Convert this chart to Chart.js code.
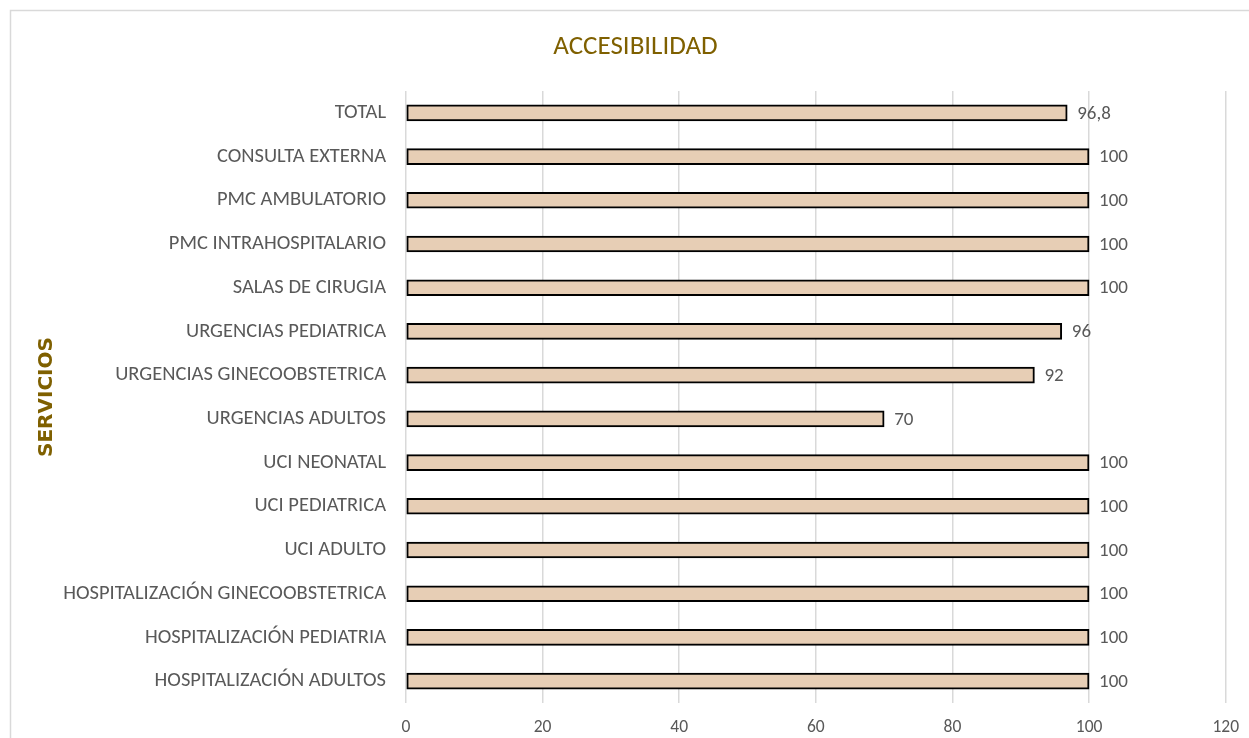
<!DOCTYPE html>
<html>
<head>
<meta charset="utf-8">
<script src="https://cdn.jsdelivr.net/npm/chart.js@4/dist/chart.umd.min.js"></script>
<style>
html,body{margin:0;padding:0;background:#fff;overflow:hidden;width:1249px;height:738px;}
canvas{display:block;}
</style>
</head>
<body>
<canvas id="c" width="1253" height="738"></canvas>
<script>
const categories = [
  "TOTAL",
  "CONSULTA EXTERNA",
  "PMC AMBULATORIO",
  "PMC INTRAHOSPITALARIO",
  "SALAS DE CIRUGIA",
  "URGENCIAS PEDIATRICA",
  "URGENCIAS GINECOOBSTETRICA",
  "URGENCIAS ADULTOS",
  "UCI NEONATAL",
  "UCI PEDIATRICA",
  "UCI ADULTO",
  "HOSPITALIZACIÓN GINECOOBSTETRICA",
  "HOSPITALIZACIÓN PEDIATRIA",
  "HOSPITALIZACIÓN ADULTOS"
];
const accesibilidad = [96.8, 100, 100, 100, 100, 96, 92, 70, 100, 100, 100, 100, 100, 100];
const xMin = 0, xMax = 120, xStep = 20;
const chartTitle = "ACCESIBILIDAD";
const yTitle = "SERVICIOS";

const NARROW = "'Liberation Sans Narrow', 'Arial Narrow', Carlito, 'Liberation Sans', sans-serif";
const PAD_L = 45;

const framePlugin = {
  id: 'frame',
  beforeDraw(chart) {
    const ctx = chart.ctx;
    ctx.save();
    ctx.strokeStyle = '#D9D9D9';
    ctx.lineWidth = 1.5;
    ctx.beginPath();
    ctx.moveTo(10.5, 740);
    ctx.lineTo(10.5, 10.5);
    ctx.lineTo(1300, 10.5);
    ctx.stroke();
    ctx.restore();
  }
};

const valueLabels = {
  id: 'valueLabels',
  afterDatasetsDraw(chart) {
    const ctx = chart.ctx;
    const meta = chart.getDatasetMeta(0);
    ctx.save();
    ctx.font = "19px " + NARROW;
    ctx.fillStyle = '#595959';
    ctx.textAlign = 'left';
    ctx.textBaseline = 'middle';
    meta.data.forEach((bar, i) => {
      const v = chart.data.datasets[0].data[i];
      const txt = String(v).replace('.', ',');
      ctx.fillText(txt, bar.x + 10, bar.y + 1);
    });
    ctx.restore();
  }
};

new Chart(document.getElementById('c'), {
  type: 'bar',
  data: {
    labels: categories,
    datasets: [{
      data: accesibilidad,
      backgroundColor: '#E7CEB5',
      borderColor: '#000000',
      borderWidth: 2,
      borderSkipped: false,
      barThickness: 16
    }]
  },
  options: {
    indexAxis: 'y',
    responsive: false,
    animation: false,
    layout: { padding: { left: PAD_L, right: 27, top: 0, bottom: 0 } },
    plugins: {
      legend: { display: false },
      tooltip: { enabled: false },
      title: {
        display: true,
        text: chartTitle,
        color: '#7F6000',
        font: { family: NARROW, size: 27, weight: 'normal', lineHeight: 1.2 },
        padding: { top: 31, bottom: 27.6 }
      }
    },
    scales: {
      x: {
        min: xMin, max: xMax,
        ticks: { stepSize: xStep, color: '#595959', font: { family: NARROW, size: 17.5 }, padding: 14 },
        grid: { color: '#D9D9D9', lineWidth: 1.5, drawTicks: false },
        border: { display: false },
        afterFit(scale) { scale.height = 35; }
      },
      y: {
        ticks: { color: '#595959', font: { family: NARROW, size: 20.5 }, padding: 20, autoSkip: false },
        grid: { display: false, drawTicks: false },
        border: { display: false },
        title: {
          display: true,
          text: yTitle,
          color: '#7F6000',
          font: { family: "'DejaVu Sans', sans-serif", size: 20, weight: 'bold', lineHeight: 1.2 },
          padding: { top: 47 - PAD_L - 12, bottom: 0 }
        },
        afterFit(scale) { scale.width = 406 - PAD_L; }
      }
    }
  },
  plugins: [framePlugin, valueLabels]
});
</script>
</body>
</html>
